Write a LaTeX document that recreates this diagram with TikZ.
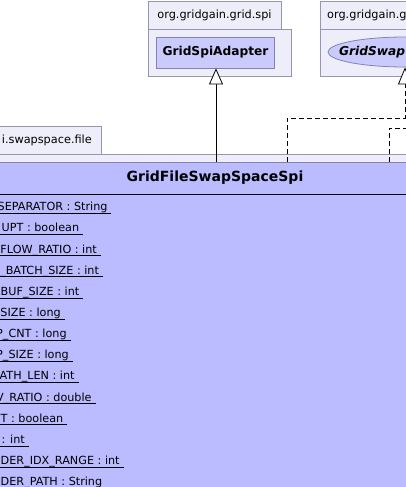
\documentclass[tikz,border=0pt]{standalone}
\usepackage{fontspec}
\setmainfont{DejaVu Sans}
\usetikzlibrary{shapes.geometric,arrows.meta}
\definecolor{pkgfill}{RGB}{238,238,250}
\definecolor{pkgline}{RGB}{150,150,175}
\definecolor{clsfill}{RGB}{187,187,255}
\definecolor{boxfill}{RGB}{202,202,252}
\definecolor{boxline}{RGB}{130,130,180}
\tikzset{
  pkg/.style={draw=pkgline, fill=pkgfill, line width=0.8pt, inner sep=0pt},
  clsbox/.style={draw=boxline, fill=boxfill, line width=0.8pt, inner sep=0pt},
  pkglabel/.style={inner sep=0pt, font=\fontsize{11.3}{13}\selectfont},
  clsname/.style={inner sep=0pt, font=\fontsize{12.2}{14}\selectfont\bfseries},
  titlefont/.style={inner sep=0pt, font=\fontsize{14}{16}\selectfont\bfseries},
  attr/.style={inner sep=0pt, font=\fontsize{11.2}{13}\selectfont},
  realize/.style={line width=0.8pt, -{Triangle[fill=white,length=16pt,width=14pt,line width=0.8pt]}},
  implement/.style={line width=0.8pt, dash pattern=on 5pt off 3pt, -{Triangle[fill=white,length=17pt,width=14pt,line width=0.8pt]}},
  implline/.style={line width=0.8pt, dash pattern=on 5pt off 3pt},
}
\begin{document}
\begin{tikzpicture}[x=1pt,y=-1pt]
\useasboundingbox (0,0) rectangle (406,487);
\clip (0,0) rectangle (406,487);
\fill[white] (0,0) rectangle (406,487);

% left package org.gridgain.grid.spi
\draw[pkg] (148,1.5) rectangle (281,29);
\draw[pkg] (148,29) rectangle (291,76);
\node[pkglabel] (spipkg) at (214.5,15) {org.gridgain.grid.spi};
\node[clsbox, clsname, minimum width=118pt, minimum height=31pt] (adapter) at (215.5,52.5) {GridSpiAdapter};

% right package
\draw[pkg] (320,1.5) rectangle (430,29);
\draw[pkg] (320,29) rectangle (520,76);
\node[pkglabel, anchor=west] (swappkg) at (327,15) {org.gridgain.g};
\node[draw=boxline, fill=boxfill, line width=0.8pt, ellipse, minimum width=154pt, minimum height=30pt, inner sep=0pt] (iface) at (405,52) {};
\node[clsname, anchor=west, font=\fontsize{12.2}{14}\selectfont\bfseries\itshape] (ifacename) at (339,52) {GridSwap};

% enclosing package
\draw[pkg] (-10,126) rectangle (101,154);
\node[pkglabel, anchor=east] (filepkg) at (92,140.5) {i.swapspace.file};
\draw[pkg] (-10,154) rectangle (430,520);

% main class
\draw[draw=boxline, fill=clsfill, line width=0.8pt] (-10,162) rectangle (430,520);
\draw[line width=0.8pt] (-10,194) -- (430,194);
\node[titlefont] (title) at (215,178) {GridFileSwapSpaceSpi};

% connectors
\coordinate (s1) at (216,162);
\coordinate (d1) at (287,162);
\coordinate (d2) at (389,162);
\coordinate (e2) at (430,128);
\draw[realize] (s1) -- (adapter.south -| s1);
\draw[implement] (d1) -- ++(0,-44) -| (iface.south);
\draw[implline] (d2) |- (e2);

% attributes
\foreach \t/\s [count=\i] in {
  {SEPARATOR : String}/-2.5,
  {UPT : boolean}/1.5,
  {FLOW\_RATIO : int}/0.3,
  {\_BATCH\_SIZE : int}/0,
  {BUF\_SIZE : int}/0.5,
  {SIZE : long}/0.3,
  {P\_CNT : long}/-4,
  {P\_SIZE : long}/-4,
  {ATH\_LEN : int}/-0.5,
  {V\_RATIO : double}/-4,
  {T : boolean}/0.5,
  {: int}/1.5,
  {DER\_IDX\_RANGE : int}/0.5,
  {DER\_PATH : String}/0.5
}{
  \pgfmathsetmacro{\yb}{210.7+21.15*(\i-1)}
  \node[attr, anchor=base west] (a\i) at (\s,\yb) {\t};
  \draw[line width=0.8pt] (0,\yb+2.6) -- ([xshift=3.8pt,yshift=-2.6pt]a\i.base east);
}
\end{tikzpicture}
\end{document}
